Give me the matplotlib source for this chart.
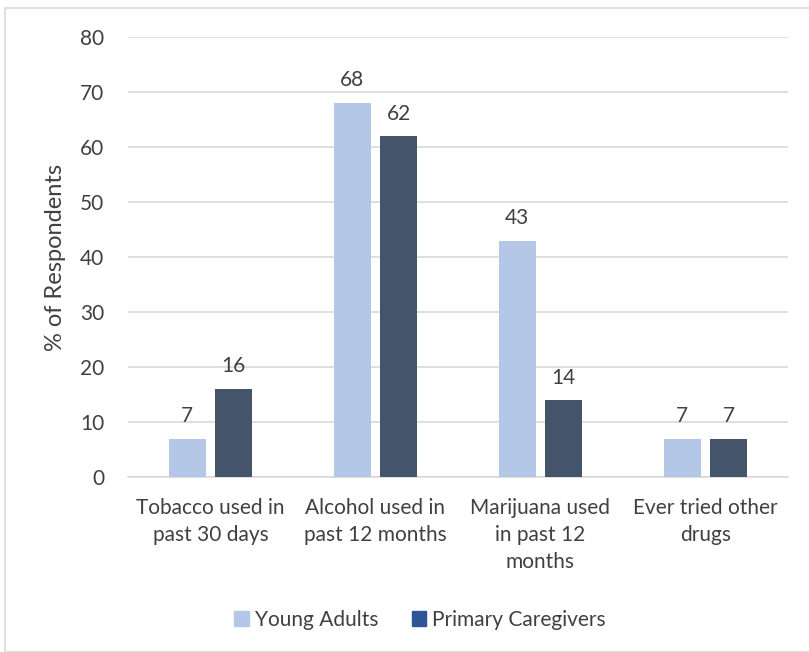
import numpy as np
import matplotlib.pyplot as plt
from matplotlib.patches import Rectangle, Patch

plt.rcParams['font.family'] = ['Lato', 'DejaVu Sans']

categories = ["Tobacco used in\npast 30 days", "Alcohol used in\npast 12 months",
              "Marijuana used\nin past 12\nmonths", "Ever tried other\ndrugs"]
young_adults = [7, 68, 43, 7]
caregivers = [16, 62, 14, 7]

light = "#B4C7E7"
dark = "#44546A"
text_col = "#404040"

fig = plt.figure(figsize=(8.09, 6.52), dpi=100)
ax = fig.add_axes([128 / 809, 1 - 477 / 652, (788 - 128) / 809, (477 - 37) / 652])

x = np.arange(len(categories))
w = 0.225
off = 0.14
b1 = ax.bar(x - off, young_adults, w, color=light, zorder=3)
b2 = ax.bar(x + off, caregivers, w, color=dark, zorder=3)
for bars in (b1, b2):
    ax.bar_label(bars, padding=9, fontsize=15, color=text_col)

ax.set_xlim(-0.5, 3.5)
ax.set_ylim(0, 80)
ax.set_yticks(range(0, 81, 10))
ax.yaxis.grid(True, color="#D9D9D9", linewidth=1.2, zorder=0)
ax.set_axisbelow(True)
for s in ["top", "right", "left"]:
    ax.spines[s].set_visible(False)
ax.spines["bottom"].set_color("#D9D9D9")
ax.spines["bottom"].set_linewidth(1.2)
ax.tick_params(axis="both", length=0, labelsize=15, labelcolor=text_col)
ax.tick_params(axis="y", pad=17)
ax.tick_params(axis="x", pad=15)
ax.set_xticks(x)
ax.set_xticklabels(categories, linespacing=1.45)
ax.set_ylabel("% of Respondents", fontsize=17, color=text_col, labelpad=10)

handles = [Patch(color=light, label="Young Adults"),
           Patch(color="#2F5597", label="Primary Caregivers")]
fig.legend(handles=handles, loc="center", bbox_to_anchor=(420 / 809, 1 - 620 / 652),
           ncol=2, frameon=False, fontsize=15, handlelength=0.7, handleheight=0.7,
           columnspacing=1.6, handletextpad=0.3, labelcolor=text_col)

fig.patches.append(Rectangle((5 / 809, 0), 1, 1 - 8 / 652, transform=fig.transFigure,
                             fill=False, edgecolor="#D9D9D9", linewidth=1.2))

fig.savefig("out.png", dpi=100)
